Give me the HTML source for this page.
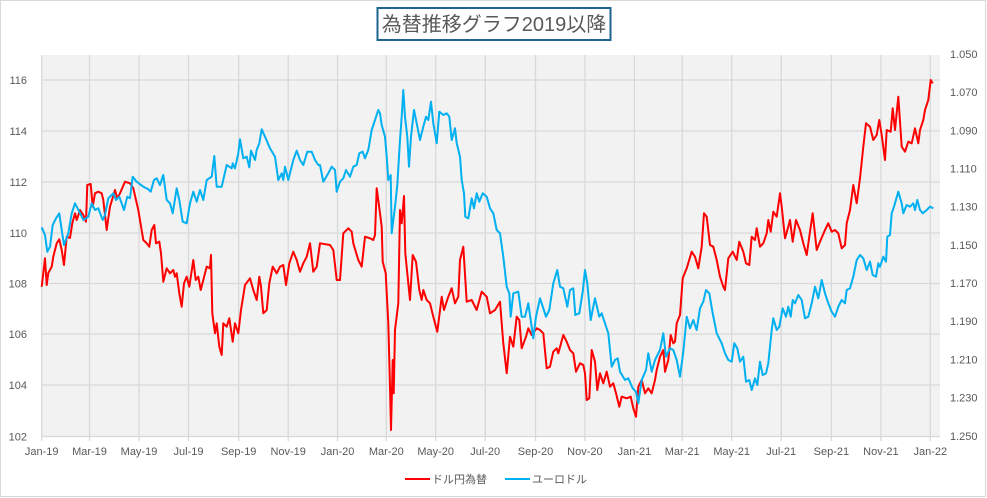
<!DOCTYPE html>
<html><head><meta charset="utf-8"><style>
html,body{margin:0;padding:0;background:#fff;}
body{width:987px;height:498px;overflow:hidden;}
svg{display:block;}
text{font-family:"Liberation Sans","Noto Sans CJK JP",sans-serif;fill:#595959;}
</style></head><body>
<svg width="987" height="498" viewBox="0 0 987 498" xmlns="http://www.w3.org/2000/svg">
<rect x="0.5" y="0.5" width="985" height="496" fill="#fff" stroke="#d9d9d9" stroke-width="1"/>
<!-- plot area -->
<rect x="41.5" y="55" width="898.5" height="381.5" fill="#f2f2f2"/>
<g stroke="#d9d9d9" stroke-width="1.3" fill="none">
<line x1="41.5" y1="80" x2="940" y2="80"/>
<line x1="41.5" y1="131" x2="940" y2="131"/>
<line x1="41.5" y1="182" x2="940" y2="182"/>
<line x1="41.5" y1="233" x2="940" y2="233"/>
<line x1="41.5" y1="283.5" x2="940" y2="283.5"/>
<line x1="41.5" y1="334" x2="940" y2="334"/>
<line x1="41.5" y1="385" x2="940" y2="385"/>
<line x1="41.5" y1="436.5" x2="940" y2="436.5"/>
<line x1="41.7" y1="55" x2="41.7" y2="441"/>
<line x1="89.5" y1="55" x2="89.5" y2="441"/>
<line x1="139" y1="55" x2="139" y2="441"/>
<line x1="188.5" y1="55" x2="188.5" y2="441"/>
<line x1="238.7" y1="55" x2="238.7" y2="441"/>
<line x1="288.2" y1="55" x2="288.2" y2="441"/>
<line x1="337.6" y1="55" x2="337.6" y2="441"/>
<line x1="386.3" y1="55" x2="386.3" y2="441"/>
<line x1="435.7" y1="55" x2="435.7" y2="441"/>
<line x1="485.2" y1="55" x2="485.2" y2="441"/>
<line x1="535.5" y1="55" x2="535.5" y2="441"/>
<line x1="584.9" y1="55" x2="584.9" y2="441"/>
<line x1="634.4" y1="55" x2="634.4" y2="441"/>
<line x1="682.2" y1="55" x2="682.2" y2="441"/>
<line x1="731.7" y1="55" x2="731.7" y2="441"/>
<line x1="781.2" y1="55" x2="781.2" y2="441"/>
<line x1="831.4" y1="55" x2="831.4" y2="441"/>
<line x1="880.9" y1="55" x2="880.9" y2="441"/>
<line x1="930.3" y1="55" x2="930.3" y2="441"/>
</g>
<!-- left axis labels -->
<g font-size="11" text-anchor="end">
<text x="27" y="84">116</text>
<text x="27" y="135">114</text>
<text x="27" y="186">112</text>
<text x="27" y="237">110</text>
<text x="27" y="287.5">108</text>
<text x="27" y="338">106</text>
<text x="27" y="389">104</text>
<text x="27" y="440.5">102</text>
</g>
<!-- right axis labels -->
<g font-size="11" text-anchor="start">
<text x="950" y="58">1.050</text>
<text x="950" y="96">1.070</text>
<text x="950" y="134.5">1.090</text>
<text x="950" y="172.5">1.110</text>
<text x="950" y="210.5">1.130</text>
<text x="950" y="249">1.150</text>
<text x="950" y="287">1.170</text>
<text x="950" y="325">1.190</text>
<text x="950" y="363.5">1.210</text>
<text x="950" y="401.5">1.230</text>
<text x="950" y="440">1.250</text>
</g>
<!-- x labels -->
<g font-size="11" text-anchor="middle">
<text x="41.7" y="455">Jan-19</text>
<text x="89.5" y="455">Mar-19</text>
<text x="139" y="455">May-19</text>
<text x="188.5" y="455">Jul-19</text>
<text x="238.7" y="455">Sep-19</text>
<text x="288.2" y="455">Nov-19</text>
<text x="337.6" y="455">Jan-20</text>
<text x="386.3" y="455">Mar-20</text>
<text x="435.7" y="455">May-20</text>
<text x="485.2" y="455">Jul-20</text>
<text x="535.5" y="455">Sep-20</text>
<text x="584.9" y="455">Nov-20</text>
<text x="634.4" y="455">Jan-21</text>
<text x="682.2" y="455">Mar-21</text>
<text x="731.7" y="455">May-21</text>
<text x="781.2" y="455">Jul-21</text>
<text x="831.4" y="455">Sep-21</text>
<text x="880.9" y="455">Nov-21</text>
<text x="930.3" y="455">Jan-22</text>
</g>
<!-- red series -->
<polyline fill="none" stroke="#ff0000" stroke-width="2" stroke-linejoin="round" points="41.7,286.7 45,258.3 46.7,285 48.3,273 51.7,266.7 53.3,256.7 56.7,243.3 59.3,239.3 61.7,250 64,265 66.7,236.7 70,238 72.3,223.3 75,213.3 76.7,220 80,210 83.3,215 86,221.7 87.3,185 90.7,184 92.7,206.7 95,193.3 98.3,191.7 101.7,193.3 103.3,200 106.7,230 108.3,218.3 110,206.7 115,190 117.3,198.3 120,193.3 125,181.7 130,183.3 133.3,188.3 138.3,210 143.3,240 146.7,243.3 149.3,246.7 151.7,230 154.3,225 156,243.3 159.3,241.7 161,253.3 163.3,281.7 166.7,268.3 170,273.3 173.3,270 175,276.7 176.7,273.3 179.3,293.3 181.7,306.7 184,283.3 186.7,276.7 189.3,286.7 193.3,260 195.7,280 198.3,276.7 200.7,290 203.3,280 206.7,266.7 210,268.3 211,255 212.3,313.3 215,333.3 216.7,323.3 219.3,346.7 221.7,355 223.3,323.3 226.7,326.7 229.3,318.3 232.7,341.7 235,323.3 238.3,333.3 241,310 245,285 250,278.3 253.3,290 256.7,300 259.3,276.7 261,286.7 263.3,313.3 266.7,310 269.3,283.3 272.7,266.7 276.7,273.3 280,266.7 283.3,265 286,285 289.3,263.3 293.3,251.7 296.7,260 300,271.7 303.3,263.3 306.7,256.7 310,243.3 313.3,271.7 316.7,266.7 320,243.3 330,245 333.3,250 336.7,280 340,280 343.3,233.3 348.3,228.3 351.7,231.7 353.3,243.3 358.3,260 361.7,266.7 365,236.7 370,238.3 373.3,240 375,235 376.7,188.3 380,213.3 381.7,226.7 382.7,261.7 385.7,273.3 388.3,323.3 390,386.7 391,430 392.7,360 393.7,393.3 395,330 398.3,303.3 400,210 401.7,223.3 404,196 405.3,253.3 408.3,283.3 410,300 412.7,255 416,261.7 419.3,290 421.7,300 423.3,290 426.7,300 430,303.3 433.3,316.7 437.3,331.7 441.7,296.7 444,310 448.3,296.7 451.7,288.3 455,303.3 458.3,296.7 460,260 463.3,246.7 466.7,301.7 471.7,300 476.7,310 481.7,291.7 486.7,296.7 490,313.3 495,310 500,301.7 503.3,343.3 506.7,373.3 510,336.7 513.3,346.7 516.7,316.7 519.3,320 521.7,348.3 526,336.7 528.3,328.3 531.7,335 536.7,328.3 540,330 543.3,333.3 546.7,368.3 550,366.7 553.3,351.7 556.7,348.3 558.3,353.3 563.3,335 566.7,341.7 570,350 573.3,353.3 576,371.7 580,363.3 583.3,365 585,373.3 586.7,400 589.3,398.3 591.7,350 595,361.7 597.3,390 600,373.3 603.3,383.3 606.7,371.7 610,386.7 613.3,383.3 616,393.3 619.3,406.7 621.7,396.7 626.7,398.3 630.7,396.7 633.3,408.3 636,416.7 638.3,386.7 641.7,380 645,393.3 648.3,388.3 651.7,393.3 655,380 656.7,370 660,356.7 663.3,350 665,371.7 668.3,360 670.7,335 673.3,343.3 675,341.7 676.7,323.3 680,315 682.7,278.3 686.7,268.3 691.7,251.7 695,256.7 698.3,268.3 701.7,246.7 704,213.3 706.7,216.7 710,245 713.3,246.7 716.7,260 720,276.7 723.3,286.7 725,290 728.3,258.3 732.7,251.7 736.7,260 739.3,241.7 743.3,251.7 746,263.3 749.3,265 751.7,236.7 755,240 756.7,228.3 760,246.7 763.3,243.3 766.7,233.3 768.3,220 770.7,231.7 773.3,211.7 776.7,216.7 780,193.3 781.7,206.7 785,238.3 788.3,226.7 790,220 792.7,241.7 796,220 800,230 803.3,243.3 806.7,255 810,231.7 812.7,213.3 816.7,250 820,241.7 825,230 828.3,223.3 831.7,231.7 835,230 838.3,233.3 841.7,248.3 845,245 846.7,223.3 850,210 853.3,185 856.7,203.3 860,178.3 863.3,146.7 866,123.3 870,126.7 873.3,140 876.7,135 879.3,120 881.7,135 885,160 886.7,130 890.7,131.7 892.7,108.3 895,130 898.3,96.7 901.7,146.7 905,151.7 908.3,141.7 911.7,143.3 915,128.3 918.3,143.3 920,130 923.3,120 925,110 928.3,100 930.7,80 932.7,83.3"/>
<!-- blue series -->
<polyline fill="none" stroke="#00b0f0" stroke-width="2" stroke-linejoin="round" points="41.7,227.3 45,235 47.3,251.7 50,246.7 52.7,225 56,218.3 59.3,213.3 61.7,230 64,245 68.3,233.3 71.7,213.3 75,203.3 79.3,211.7 83.3,220 88.3,216.7 91.7,203.3 95,210 98.3,208.3 102.7,220 105,215 108.3,198.3 113.3,193.3 116,200 119.3,196.7 124,210 127.3,196.7 130,198.3 132.7,176.7 136.7,181.7 143.3,186.7 148.3,189.3 150.7,191.7 154,180 156.7,178.3 160,185 163.3,175 166.7,200 170,203.3 172.7,213.3 176.7,188.3 179.3,200 182.7,221.7 186.7,223.3 190,203.3 193.3,191.7 196.7,201.7 200,190 203.3,200 206.7,180 211.7,176.7 214.3,156 216.7,186.7 221.7,186.7 226.7,165 231.7,168.3 232.7,163.3 235,168.3 238.3,153.3 240,139.3 243.3,158.3 246.7,156.7 249.3,167.3 251,150.7 255,160 256.7,150 259.3,143.3 261.7,129.3 265,136.7 270,148.3 275,156.7 278.3,180 281.7,173.3 283.3,180 285,166.7 288.3,180 293.3,160 296.7,150.7 300,160 303.3,165 307.3,151.7 311.7,151.7 315,160 318.3,165 320,165 323.3,181.7 328.3,173.3 331.7,166.7 335,170 336.7,191.7 340,181.7 343.3,178.3 346,170 350,176.7 353.3,166.7 356.7,165 359.3,153.3 362.7,151.7 365,158.3 368.3,150 371.7,130 375,120 378.3,110 380,113.3 381.7,125 385,136.7 386.7,156.7 388.3,180 390.7,175 391.7,233.3 395,206.7 397.3,185 400,140 401.7,116.7 403.3,90 405,116.7 407.3,136.7 409,166.7 411,136.7 414,110 416.7,123.3 420,140 423.3,126.7 426,116.7 428.3,120 431,101.7 433.3,123.3 436.7,143.3 439.3,111.7 443.3,115 446.7,113.3 449.3,116.7 451.7,140 455,128.3 456.7,143.3 460,156.7 461.7,180 464,193.3 465.3,216.7 468.3,218.3 471.7,198.3 474,208.3 476.7,193.3 479.3,201.7 482.7,193.3 486.7,196.7 490,208.3 493.3,213.3 496.7,230 500,233.3 503.3,256.7 506.7,286.7 509.3,293.3 510.7,316.7 513.3,293.3 518.3,291.7 521.7,316.7 525,316.7 528.3,303.3 533.3,338.3 536,316.7 540,298.3 543.3,308.3 546,316.7 549.3,310 553.3,283.3 557.3,270 560,286.7 563.3,288.3 567.3,306.7 570,290 573.3,288.3 575.3,315 579.3,313.3 582.7,291.7 585,270 587.3,283.3 590.7,320 595,298.3 599.3,316.7 601.7,313.3 605,323.3 608.3,333.3 611.7,366.7 615,360 617.7,358.3 620,371.7 625,380 628.3,378.3 632.7,388.3 636,391.7 638.3,403.3 641.7,380 646,370 648.3,353.3 651.7,371.7 655,360 660,350 663.3,333.3 666,356.7 670,348.3 673.3,350 676.7,360 680,376.7 683.3,351.7 686.7,316.7 690,328.3 693.3,320 696.7,330 700,308.3 703.3,301.7 706,290 709.3,293.3 712.7,313.3 716.7,333.3 721.7,343.3 725,353.3 728.3,360 731.7,361.7 734.3,343.3 737.3,348.3 740,361.7 743.3,356.7 746,381.7 749.3,380 751.7,390 755,378.3 757.3,385 760,361.7 762.7,375 766,373.3 768.3,363.3 771.7,330 773.3,318.3 776.7,330 779.3,326.7 782.7,308.3 786,316.7 788.3,306.7 790.7,316.7 792.7,300 795,303.3 798.3,295 801.7,300 805,318.3 808.3,316.7 811.7,303.3 815,286.7 818.3,298.3 821.7,280 825,293.3 828.3,303.3 831.7,311.7 835,316.7 838.3,306.7 841.7,300 845,303.3 846.7,290 850,288.3 853.3,276.7 856.7,260 860,255 863.3,258.3 866.7,270 870,261.7 872.7,275 876,276.7 878.3,263.3 880,266.7 883.3,256.7 886,261.7 887.3,236.7 890,235 891.7,213.3 894,206.7 898.3,191.7 901.7,203.3 903.3,213.3 906.7,205 910,206.7 913.3,203.3 915,210 917.3,200 920,210 922.7,213.3 926.7,210 930,206.7 933.3,208.3"/>
<!-- title -->
<rect x="377.5" y="8" width="233" height="32" fill="#fff" stroke="#1f6391" stroke-width="2"/>
<text x="494" y="31" font-size="20" text-anchor="middle">為替推移グラフ2019以降</text>
<!-- legend -->
<line x1="405" y1="479" x2="430" y2="479" stroke="#ff0000" stroke-width="2"/>
<text x="432" y="483" font-size="11">ドル円為替</text>
<line x1="505" y1="479" x2="530" y2="479" stroke="#00b0f0" stroke-width="2"/>
<text x="532" y="483" font-size="11">ユーロドル</text>
</svg>
</body></html>
